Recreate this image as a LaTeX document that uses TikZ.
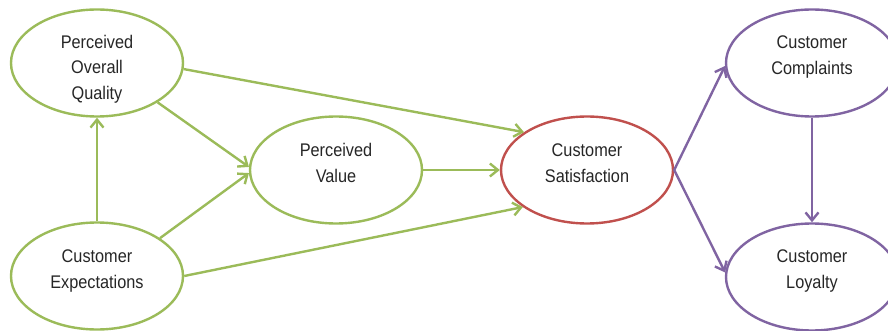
\documentclass[tikz,border=0pt]{standalone}
\usepackage{fontspec}
\setmainfont{Liberation Sans}[FakeStretch=0.89]
\usetikzlibrary{shapes.geometric,arrows.meta}
\definecolor{gr}{RGB}{155,187,89}
\definecolor{rd}{RGB}{192,80,77}
\definecolor{pu}{RGB}{128,100,162}
\tikzset{
  oval/.style={ellipse, draw=#1, line width=2.4pt, minimum width=172pt, minimum height=107pt,
    inner sep=0pt, fill=white},
  txt/.style={align=center, inner sep=0pt, font=\fontsize{18.3}{25.5}\selectfont, text=black!85},
  conn/.style={draw=#1, line width=2.4pt, -{Straight Barb[length=8pt,width=13pt]}}
}
\begin{document}
\begin{tikzpicture}[x=1pt,y=-1pt]
\useasboundingbox (0,0) rectangle (888,331);
\node[oval=gr, label={[txt,yshift=-6pt]center:Perceived\\Overall\\Quality}] (poq) at (97,63) {};
\node[oval=gr, label={[txt,yshift=5pt]center:Customer\\Expectations}] (ce) at (97,276) {};
\node[oval=gr, label={[txt,yshift=7pt]center:Perceived\\Value}] (pv) at (336,170) {};
\node[oval=rd, label={[txt,yshift=7pt]center:Customer\\Satisfaction}] (cs) at (587,170) {};
\node[oval=pu, label={[txt,yshift=6pt]center:Customer\\Complaints}] (cc) at (812,63) {};
\node[oval=pu, label={[txt,yshift=6pt]center:Customer\\Loyalty}] (cl) at (812,277) {};
\draw[conn=gr] (ce.north) -- (poq.south);
\draw[conn=gr] (poq.-4) -- (cs.149);
\draw[conn=gr] (poq.-33) -- (pv.178);
\draw[conn=gr] (ce.31) -- (pv.182);
\draw[conn=gr] (ce.0) -- (cs.210);
\draw[conn=gr] (pv.east) -- (cs.west);
\draw[conn=pu] (cs.east) -- (cc.182);
\draw[conn=pu] (cs.east) -- (cl.177);
\draw[conn=pu] (cc.south) -- (cl.north);
\end{tikzpicture}
\end{document}
